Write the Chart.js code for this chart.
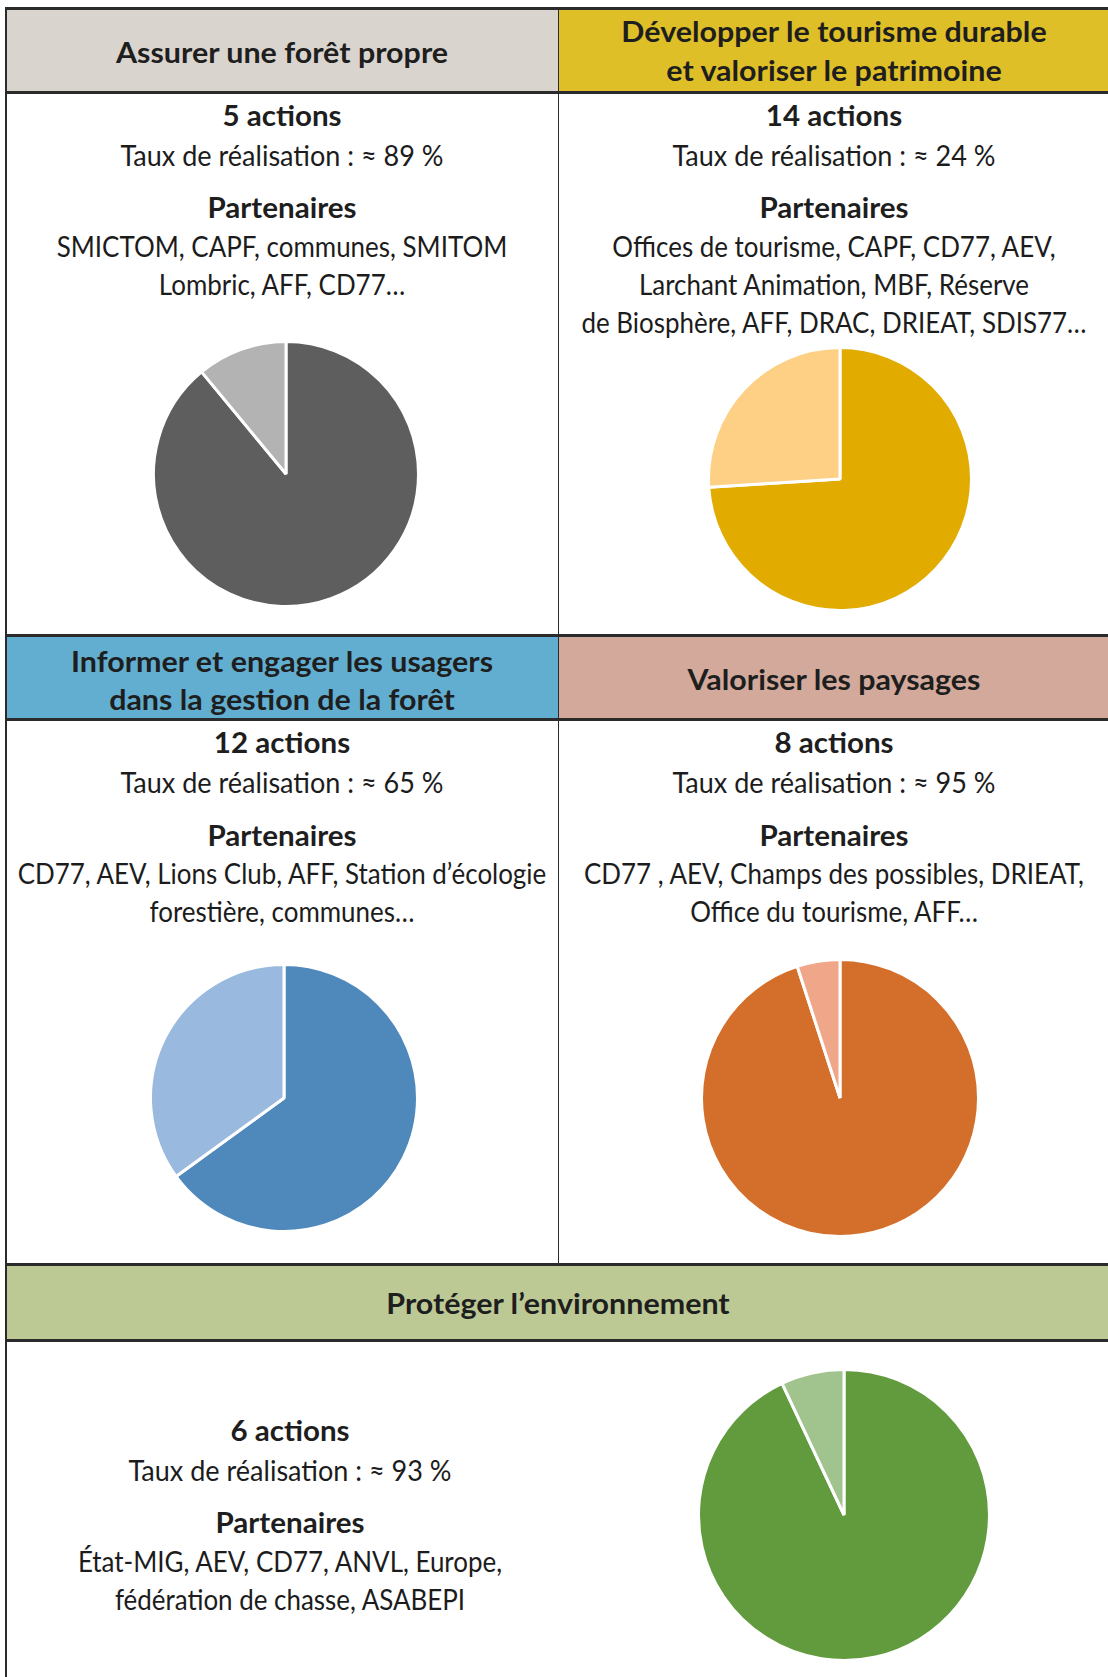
<!DOCTYPE html>
<html lang="fr">
<head>
<meta charset="utf-8">
<script src="https://cdn.jsdelivr.net/npm/chart.js@4.4.1/dist/chart.umd.min.js"></script>
<style>
  html, body { margin: 0; padding: 0; background: #fff; }
  body {
    width: 1108px; height: 1677px; position: relative; overflow: hidden;
    font-family: Lato, "Liberation Sans", sans-serif;
    color: #1c1c1c;
  }
  .hd { position: absolute; box-sizing: border-box; border-top: 3px solid #2b2b2b; border-bottom: 3px solid #2b2b2b; }
  .vl { position: absolute; background: #2b2b2b; z-index: 2; }
  .txt { position: absolute; white-space: nowrap; }
  .b { font-weight: bold; color: #1e1e1e; }
  canvas { position: absolute; }
</style>
</head>
<body>
<script>
/* DATA */
const themes = [
  "Assurer une forêt propre",
  "Développer le tourisme durable\net valoriser le patrimoine",
  "Informer et engager les usagers\ndans la gestion de la forêt",
  "Valoriser les paysages",
  "Protéger l’environnement"
];

const actionCounts = [5, 14, 12, 8, 6];

// rate written in each cell
const tauxAffiches = [89, 24, 65, 95, 93];

// slices as drawn in the pies
const partRealisee = [89, 74, 65, 95, 93];
const partRestante = [11, 26, 35, 5, 7];

const sliceLabels = ["Réalisé", "Restant"];

const partenaires = [
  ["SMICTOM, CAPF, communes, SMITOM", "Lombric, AFF, CD77…"],
  ["Offices de tourisme, CAPF, CD77, AEV,", "Larchant Animation, MBF, Réserve", "de Biosphère, AFF, DRAC, DRIEAT, SDIS77…"],
  ["CD77, AEV, Lions Club, AFF, Station d’écologie", "forestière, communes…"],
  ["CD77 , AEV, Champs des possibles, DRIEAT,", "Office du tourisme, AFF…"],
  ["État-MIG, AEV, CD77, ANVL, Europe,", "fédération de chasse, ASABEPI"]
];

/* STYLES */
const headerColors = ["#dad4ce", "#dfbf27", "#62aed1", "#d2a99b", "#bcc995"];
const darkColors = ["#5e5e5e", "#e1ab00", "#4f89bc", "#d36f2b", "#629a3e"];
const lightColors = ["#b3b3b3", "#fdd086", "#9ab9df", "#f0a689", "#a1c48f"];

/* LAYOUT */
const cells = [
  { hx: 6,   hw: 553,  ht: 7,    hh: 87, headBase: [62.7],       tx: 282, base: 126,   pie: { x: 285.5, y: 474,    r: 131 } },
  { hx: 559, hw: 560,  ht: 7,    hh: 87, headBase: [42.3, 81],   tx: 834, base: 126,   pie: { x: 840,   y: 478.5,  r: 130 } },
  { hx: 6,   hw: 553,  ht: 634,  hh: 87, headBase: [671.7, 710], tx: 282, base: 753.3, pie: { x: 284,   y: 1098,   r: 132 } },
  { hx: 559, hw: 560,  ht: 634,  hh: 87, headBase: [690],        tx: 834, base: 753.3, pie: { x: 839.5, y: 1098,   r: 137 } },
  { hx: 6,   hw: 1110, ht: 1263, hh: 79, headBase: [1314],       tx: 290, base: 1441,  pie: { x: 843.5, y: 1514.5, r: 144 }, headX: 558 }
];

const FAMILY = 'Lato, "Liberation Sans", sans-serif';
const FS = 29;

// calibrate glyph width to the reference lettering
const meas = document.createElement("canvas").getContext("2d");
function metrics(size, bold) {
  meas.font = (bold ? "bold " : "") + size + "px " + FAMILY;
  return meas;
}
const regSX = 323 / metrics(FS, false).measureText("Taux de réalisation : ≈ 89 %").width;
const boldSX = 149 / metrics(FS, true).measureText("Partenaires").width;
const sx = { taux: regSX, part: regSX * 0.96, bold: boldSX, head: boldSX * 1.03 };

function addText(str, x, baseline, kind, size) {
  const bold = kind === "bold" || kind === "head";
  const m = metrics(size, bold).measureText("Hg");
  const asc = m.fontBoundingBoxAscent, desc = m.fontBoundingBoxDescent;
  const baseOff = (size - (asc + desc)) / 2 + asc;
  const d = document.createElement("div");
  d.className = "txt" + (bold ? " b" : "");
  d.style.fontSize = size + "px";
  d.style.lineHeight = size + "px";
  d.style.left = x + "px";
  d.style.top = (baseline - baseOff) + "px";
  d.style.transform = "translateX(-50%) scaleX(" + sx[kind] + ")";
  d.textContent = str;
  document.body.appendChild(d);
}

function addBox(cls, x, y, w, h, bg) {
  const d = document.createElement("div");
  d.className = cls;
  d.style.left = x + "px";
  d.style.top = y + "px";
  d.style.width = w + "px";
  d.style.height = h + "px";
  if (bg) d.style.background = bg;
  document.body.appendChild(d);
}

/* PIE */
function drawPie(i, pos) {
  const bw = 3;
  const size = Math.round(2 * pos.r + 2 * bw);
  const c = document.createElement("canvas");
  c.width = size;
  c.height = size;
  c.style.left = (pos.x - size / 2) + "px";
  c.style.top = (pos.y - size / 2) + "px";
  document.body.appendChild(c);

  new Chart(c, {
    type: "pie",
    data: {
      labels: sliceLabels,
      datasets: [{
        data: [partRealisee[i], partRestante[i]],
        backgroundColor: [darkColors[i], lightColors[i]],
        borderColor: "#ffffff",
        borderWidth: bw
      }]
    },
    options: {
      responsive: false,
      animation: false,
      devicePixelRatio: 1,
      layout: { padding: 0 },
      plugins: {
        legend: { display: false },
        tooltip: { enabled: false }
      }
    }
  });
}

cells.forEach((c, i) => {
  // header band
  addBox("hd", c.hx, c.ht, c.hw, c.hh, headerColors[i]);
  const hx = c.headX !== undefined ? c.headX : c.tx;
  themes[i].split("\n").forEach((line, k) => addText(line, hx, c.headBase[k], "head", FS));

  // body text
  addText(actionCounts[i] + " actions", c.tx, c.base, "bold", FS);
  addText("Taux de réalisation : ≈ " + tauxAffiches[i] + " %", c.tx, c.base + 39.5, "taux", FS);
  addText("Partenaires", c.tx, c.base + 92.3, "bold", FS);
  partenaires[i].forEach((line, k) => addText(line, c.tx, c.base + 130.7 + k * 38.3, "part", FS));

  drawPie(i, c.pie);
});

// frame lines
addBox("vl", 5, 7, 2, 1670);
addBox("vl", 558, 7, 1.2, 1257);
</script>
</body>
</html>
